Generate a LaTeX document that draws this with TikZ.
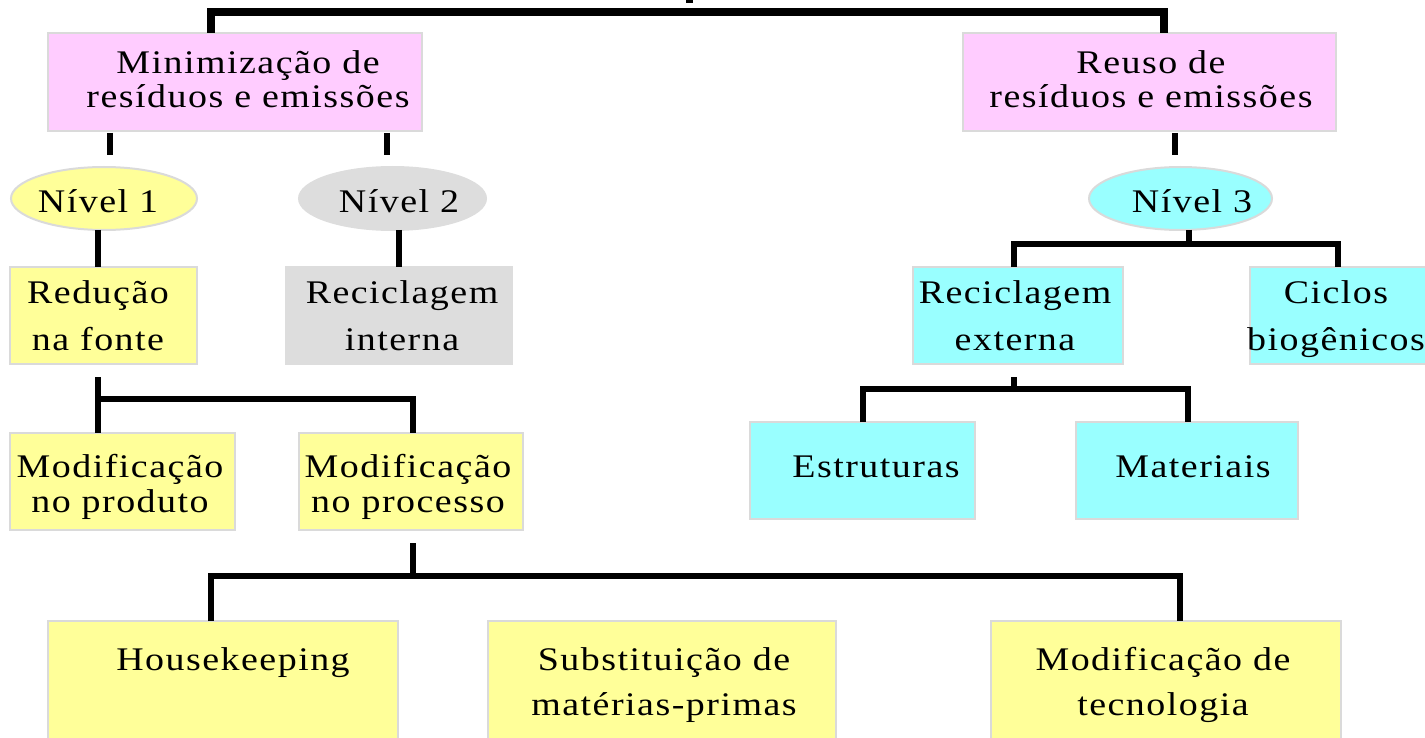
\documentclass[tikz,border=0pt]{standalone}
\usepackage{fontspec}
\setmainfont{Liberation Serif}[FakeStretch=1.15,LetterSpace=4.5]
\usetikzlibrary{fit,shapes.geometric}
\definecolor{pinkf}{HTML}{FFCCFF}
\definecolor{yelf}{HTML}{FFFF99}
\definecolor{grayf}{HTML}{DDDDDD}
\definecolor{cyanf}{HTML}{99FFFF}
\definecolor{edgec}{HTML}{DADADA}
\begin{document}
\begin{tikzpicture}[x=1pt,y=-1pt,
  boxbase/.style={inner sep=0pt, outer sep=0pt, line width=2.5pt, draw=edgec},
  pinkbox/.style={boxbase, fill=pinkf},
  yelbox/.style={boxbase, fill=yelf},
  graybox/.style={boxbase, fill=grayf, draw=grayf},
  cyanbox/.style={boxbase, fill=cyanf},
  oval/.style={ellipse, inner sep=0pt, outer sep=0pt, line width=2pt, minimum height=63pt},
  txt/.style={inner sep=0pt, anchor=base, align=center, font=\fontsize{33}{34}\selectfont},
  lsA/.style={font=\fontsize{33}{47}\selectfont},
  lsB/.style={font=\fontsize{33}{35}\selectfont},
  lsC/.style={font=\fontsize{33}{45}\selectfont},
  conn/.style={line width=6.5pt, line cap=butt, line join=miter, black},
]
\useasboundingbox (0,0) rectangle (1425,738);

% boxes
\node[pinkbox, fit={(48,33) (422,131)}] (min) {};
\node[pinkbox, fit={(963,33) (1336,131)}] (reu) {};
\node[oval, fill=yelf, draw=edgec, minimum width=186pt] (n1) at (104,198.5) {};
\node[oval, fill=grayf, draw=grayf, minimum width=187pt] (n2) at (392.5,198.5) {};
\node[oval, fill=cyanf, draw=edgec, minimum width=183pt] (n3) at (1180.5,198.5) {};
\node[yelbox, fit={(10,267) (197,364)}] (red) {};
\node[graybox, fit={(286,267) (512,364)}] (rint) {};
\node[cyanbox, fit={(913,267) (1123,364)}] (rext) {};
\node[cyanbox, fit={(1250,267) (1440,364)}] (cic) {};
\node[yelbox, fit={(10,433) (235,530)}] (mprod) {};
\node[yelbox, fit={(299,433) (523,530)}] (mproc) {};
\node[cyanbox, fit={(750,422) (975,519)}] (estr) {};
\node[cyanbox, fit={(1076,422) (1298,519)}] (mat) {};
\node[yelbox, fit={(48,621) (398,770)}] (hk) {};
\node[yelbox, fit={(488,621) (836,770)}] (sub) {};
\node[yelbox, fit={(991,621) (1341,770)}] (tec) {};

% texts (base anchor = baseline of the last line)
\node[txt] (mint) at (248,108) {Minimização de\\resíduos e emissões};
\node[txt] (reut) at (1151,108) {Reuso de\\resíduos e emissões};
\node[txt] (n1t) at (98,213) {Nível 1};
\node[txt] (n2t) at (399,213) {Nível 2};
\node[txt] (n3t) at (1192,213) {Nível 3};
\node[txt, lsA] (redt) at (98,350) {Redução\\na fonte};
\node[txt, lsA] (rintt) at (402,350) {Reciclagem\\interna};
\node[txt, lsA] (rextt) at (1015,350) {Reciclagem\\externa};
\node[txt, lsA] (cict) at (1336,350) {Ciclos\\biogênicos};
\node[txt, lsB] (mprodt) at (120,512) {Modificação\\no produto};
\node[txt, lsB] (mproct) at (408,512) {Modificação\\no processo};
\node[txt] (estrt) at (876,477) {Estruturas};
\node[txt] (matt) at (1193,477) {Materiais};
\node[txt] (hkt) at (233,670) {Housekeeping};
\node[txt, lsC] (subt) at (664,715) {Substituição de\\matérias-primas};
\node[txt, lsC] (tect) at (1163,715) {Modificação de\\tecnologia};

% junction coordinates
\coordinate (topbar) at (689,12);
\coordinate (topa) at (689,3);
\coordinate (topend) at (689,-5);
\coordinate (xa) at (211,0);
\coordinate (xb) at (1164,0);
\coordinate (xc) at (110,0);
\coordinate (xd) at (387,0);
\coordinate (xe) at (1175,0);
\coordinate (xf) at (98,0);
\coordinate (xg) at (399,0);
\coordinate (xh) at (1189,0);
\coordinate (bar3) at (1189,244);
\coordinate (xi) at (1014,0);
\coordinate (xj) at (1338,0);
\coordinate (bar4) at (98,399);
\coordinate (xk) at (413,0);
\coordinate (bar5) at (1014,389);
\coordinate (xl) at (863,0);
\coordinate (xm) at (1188,0);
\coordinate (bar6) at (413,576);
\coordinate (xn) at (211,0);
\coordinate (xo) at (664,0);
\coordinate (xp) at (1180,0);

% connectors
\draw[conn, line width=7.5pt] (min.north -| xa) |- (topbar) -| (reu.north -| xb);
\draw[conn, line width=7pt] (topa) -- (topend);
\draw[conn] ([yshift=-2pt]min.south -| xc) -- ([yshift=12pt]n1.north -| xc);
\draw[conn] ([yshift=-2pt]min.south -| xd) -- ([yshift=12pt]n2.north -| xd);
\draw[conn] ([yshift=-2pt]reu.south -| xe) -- ([yshift=12pt]n3.north -| xe);
\draw[conn] (n1.south -| xf) -- (red.north -| xf);
\draw[conn] (n2.south -| xg) -- (rint.north -| xg);
\draw[conn] (n3.south -| xh) -- (bar3);
\draw[conn] (rext.north -| xi) |- (bar3) -| (cic.north -| xj);
\draw[conn] ([yshift=-13pt]red.south -| xf) -- (mprod.north -| xf);
\draw[conn] (bar4) -| (mproc.north -| xk);
\draw[conn] ([yshift=-13pt]rext.south -| xi) -- (bar5);
\draw[conn] (estr.north -| xl) |- (bar5) -| (mat.north -| xm);
\draw[conn] ([yshift=-13pt]mproc.south -| xk) -- (bar6);
\draw[conn] (hk.north -| xn) |- (bar6) -| (tec.north -| xp);
\draw[conn] (sub.north -| xo) -- (sub.north -| xo |- bar6);
\end{tikzpicture}
\end{document}
